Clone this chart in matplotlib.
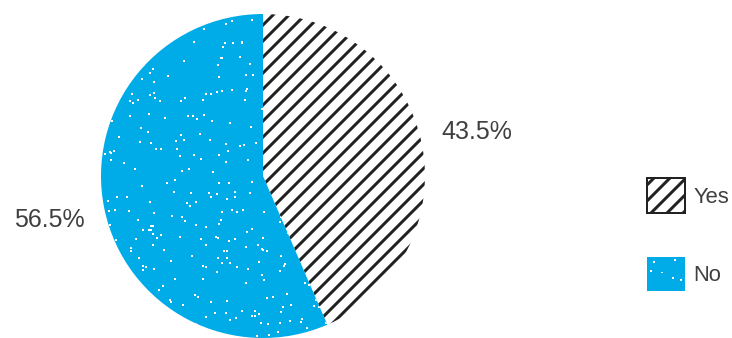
import matplotlib
matplotlib.use('Agg')
import matplotlib.pyplot as plt
import numpy as np
from matplotlib.patches import Patch, Rectangle
from matplotlib.legend_handler import HandlerPatch

labels = ['Yes', 'No']
shares = [43.5, 56.5]

BLUE = '#00ace8'
INK = '#222222'
TEXT = '#404040'

plt.rcParams['font.family'] = ['Liberation Sans', 'DejaVu Sans']
plt.rcParams['hatch.color'] = INK
plt.rcParams['hatch.linewidth'] = 1.5

DPI = 144
FS = 12.5
LEG_FS = 11
fig = plt.figure(figsize=(732 / DPI, 338 / DPI), dpi=DPI)
ax = fig.add_axes([101 / 732, 0.0, 324 / 732, 324 / 338])

wedges, _, pcts = ax.pie(
    shares, startangle=90, counterclock=False,
    colors=['white', BLUE], autopct='%.1f%%', pctdistance=1.35,
    wedgeprops=dict(linewidth=0, edgecolor=INK),
    textprops=dict(fontsize=FS, color=TEXT),
)
wedges[0].set_hatch('///')
ax.set_xlim(-1, 1)
ax.set_ylim(-1, 1)

# speckle texture on the blue slice
rng = np.random.default_rng(11)
px = rng.uniform(-1, 1, 480)
py = rng.uniform(-1, 1, 480)
sc = ax.scatter(px, py, s=1.6, marker='s', color='white', linewidths=0, zorder=3)
sc.set_clip_path(wedges[1])


class DottedHandler(HandlerPatch):
    spots = [(0.16, 0.83), (0.71, 0.87), (0.07, 0.55), (0.38, 0.52),
             (0.65, 0.35), (0.88, 0.29)]

    def create_artists(self, legend, orig_handle, xdescent, ydescent,
                       width, height, fontsize, trans):
        x0, y0 = -xdescent, -ydescent
        out = [Rectangle((x0, y0), width, height, facecolor=BLUE,
                         edgecolor='none', transform=trans)]
        d = width * 0.05
        for fx, fy in self.spots:
            out.append(Rectangle((x0 + fx * width, y0 + fy * height), d, d,
                                 facecolor='white', edgecolor='none',
                                 transform=trans))
        return out


h_yes = Patch(facecolor='white', edgecolor=INK, hatch='///', linewidth=1.0)
h_no = Patch(facecolor=BLUE, edgecolor='none')
fig.legend([h_yes, h_no], labels, loc='center left',
           bbox_to_anchor=(647 / 732, 0.305), frameon=False,
           borderpad=0, borderaxespad=0, handlelength=1.73, handleheight=2.03,
           handletextpad=0.38, labelspacing=2.0, fontsize=LEG_FS,
           labelcolor=TEXT, handler_map={h_no: DottedHandler()})

fig.savefig('out.png', dpi=DPI)
